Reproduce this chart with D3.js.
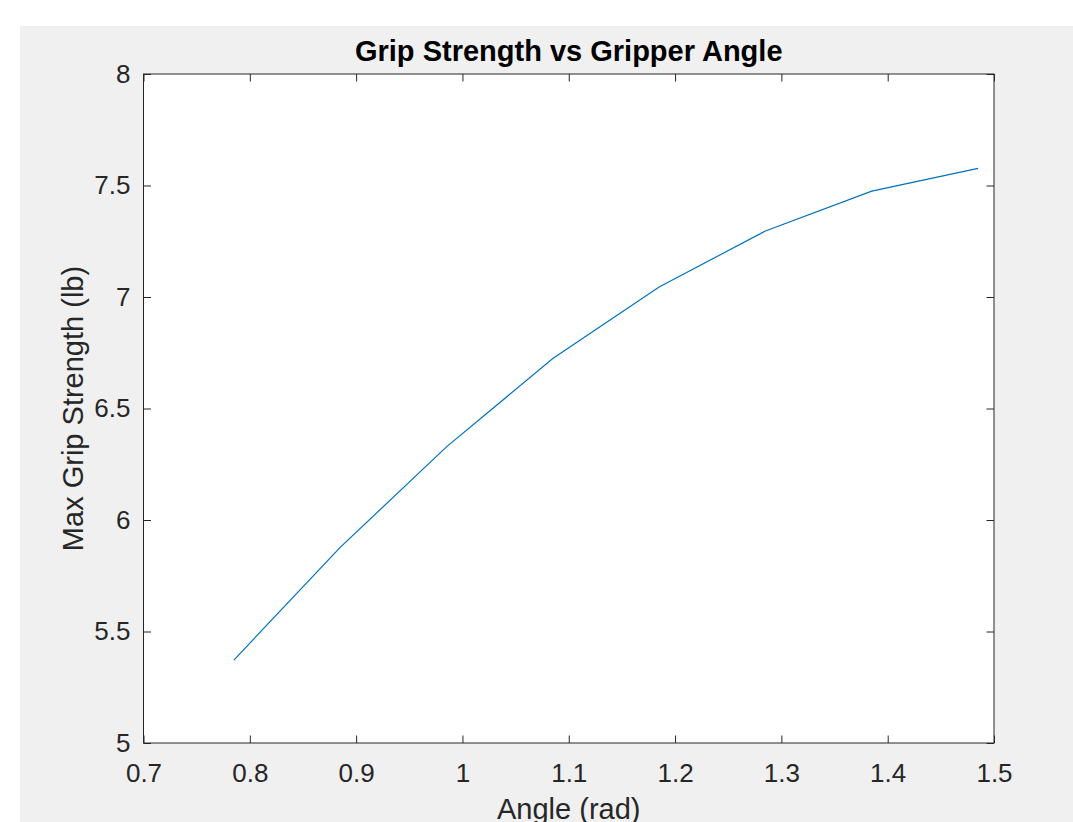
<!DOCTYPE html>
<html>
<head>
<meta charset="utf-8">
<script src="https://cdn.jsdelivr.net/npm/d3@7"></script>
<style>
  html, body { margin: 0; padding: 0; background: #ffffff; }
  svg { display: block; }
  text { font-family: "Liberation Sans", Arial, sans-serif; fill: #262626; }
</style>
</head>
<body>
<div id="chart"></div>
<script>
// data
const angles = [0.785, 0.885, 0.985, 1.085, 1.185, 1.285, 1.385, 1.485];
const strengths = [5.372, 5.877, 6.328, 6.724, 7.045, 7.296, 7.475, 7.577];
const xTicks = [0.7, 0.8, 0.9, 1, 1.1, 1.2, 1.3, 1.4, 1.5];
const yTicks = [5, 5.5, 6, 6.5, 7, 7.5, 8];

const config = {
  width: 1073,
  height: 822,
  margin: { top: 74, right: 79, bottom: 79, left: 143.5 }
};
const plotW = config.width - config.margin.left - config.margin.right;
const plotH = config.height - config.margin.top - config.margin.bottom;

const svg = d3.select('#chart').append('svg')
  .attr('width', config.width)
  .attr('height', config.height);

// grey figure background
svg.append('rect')
  .attr('x', 20).attr('y', 26)
  .attr('width', config.width - 20).attr('height', config.height - 26)
  .attr('fill', '#f0f0f0');

const g = svg.append('g')
  .attr('transform', `translate(${config.margin.left},${config.margin.top})`);

const x = d3.scaleLinear().domain([0.7, 1.5]).range([0, plotW]);
const y = d3.scaleLinear().domain([5, 8]).range([plotH, 0]);

g.append('rect')
  .attr('width', plotW).attr('height', plotH)
  .attr('fill', '#ffffff');

const fmt = d => String(d);
const tickLen = 7.5;

// axes, ticks pointing inwards (MATLAB style)
function styleAxis(sel) {
  sel.attr('font-size', 26).attr('font-family', '"Liberation Sans", Arial, sans-serif');
  sel.select('.domain').remove();
  sel.selectAll('.tick line').attr('stroke', '#262626');
  sel.selectAll('.tick text').attr('fill', '#262626');
}

g.append('g')
  .attr('transform', `translate(0,${plotH})`)
  .call(d3.axisBottom(x).tickValues(xTicks).tickFormat(fmt).tickSizeInner(-tickLen).tickSizeOuter(0).tickPadding(21))
  .call(styleAxis);

g.append('g')
  .call(d3.axisTop(x).tickValues(xTicks).tickFormat('').tickSizeInner(-tickLen).tickSizeOuter(0))
  .call(styleAxis);

g.append('g')
  .call(d3.axisLeft(y).tickValues(yTicks).tickFormat(fmt).tickSizeInner(-tickLen).tickSizeOuter(0).tickPadding(13))
  .call(styleAxis);

g.append('g')
  .attr('transform', `translate(${plotW},0)`)
  .call(d3.axisRight(y).tickValues(yTicks).tickFormat('').tickSizeInner(-tickLen).tickSizeOuter(0))
  .call(styleAxis);

// box
g.append('rect')
  .attr('width', plotW).attr('height', plotH)
  .attr('fill', 'none')
  .attr('stroke', '#262626')
  .attr('stroke-width', 1);

// the line
const line = d3.line()
  .x((d, i) => x(angles[i]))
  .y(d => y(d));

g.append('path')
  .datum(strengths)
  .attr('d', line)
  .attr('fill', 'none')
  .attr('stroke', '#0072bd')
  .attr('stroke-width', 1.2);

// labels
g.append('text')
  .text('Grip Strength vs Gripper Angle')
  .attr('x', plotW / 2)
  .attr('y', -13)
  .attr('text-anchor', 'middle')
  .attr('font-size', 29)
  .attr('font-weight', 'bold')
  .style('fill', '#000000');

g.append('text')
  .text('Angle (rad)')
  .attr('x', plotW / 2)
  .attr('y', plotH + 76)
  .attr('text-anchor', 'middle')
  .attr('font-size', 29);

g.append('text')
  .text('Max Grip Strength (lb)')
  .attr('transform', `translate(${83 - config.margin.left},${plotH / 2}) rotate(-90)`)
  .attr('text-anchor', 'middle')
  .attr('font-size', 29);
</script>
</body>
</html>
